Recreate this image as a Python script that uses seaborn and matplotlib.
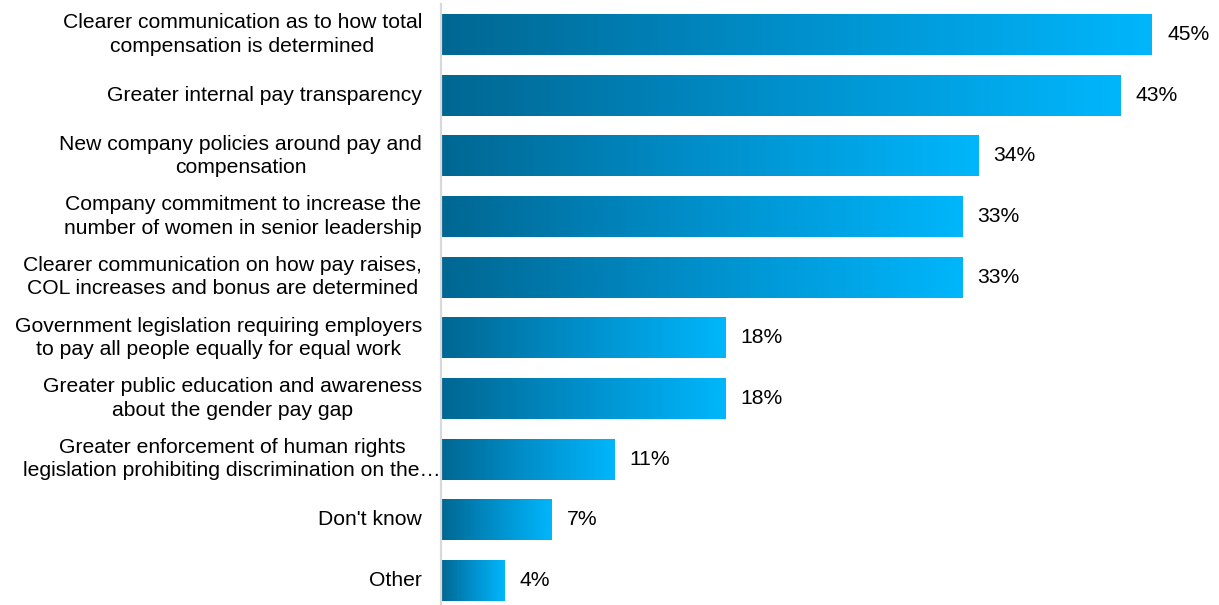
import numpy as np
import pandas as pd
import matplotlib
matplotlib.use("Agg")
import matplotlib.pyplot as plt
import seaborn as sns
from matplotlib.colors import LinearSegmentedColormap

categories = [
    "Clearer communication as to how total\ncompensation is determined",
    "Greater internal pay transparency",
    "New company policies around pay and\ncompensation",
    "Company commitment to increase the\nnumber of women in senior leadership",
    "Clearer communication on how pay raises,\nCOL increases and bonus are determined",
    "Government legislation requiring employers\nto pay all people equally for equal work",
    "Greater public education and awareness\nabout the gender pay gap",
    "Greater enforcement of human rights\nlegislation prohibiting discrimination on the\u2026",
    "Don't know",
    "Other",
]
values = [45, 43, 34, 33, 33, 18, 18, 11, 7, 4]
value_labels = ["45%", "43%", "34%", "33%", "33%", "18%", "18%", "11%", "7%", "4%"]

df = pd.DataFrame({"category": categories, "value": values})

sns.set_theme(style="white")
plt.rcParams["font.family"] = ["Liberation Sans", "DejaVu Sans"]

W, H, DPI = 1219, 605, 100
FS = 15.2
fig = plt.figure(figsize=(W / DPI, H / DPI), dpi=DPI)
# axes spans 607 px vertically, starting 4 px below the top edge
ax = fig.add_axes([441 / W, (H - 611) / H, (W - 441) / W, 607 / H])

sns.barplot(data=df, x="value", y="category", orient="h", ax=ax,
            width=0.675, color="#0088c0", saturation=1, edgecolor="none")

ax.set_xlim(0, (W - 441) / 15.8)

# horizontal gradient fill inside each bar
cmap = LinearSegmentedColormap.from_list("blue_grad", ["#006792", "#0090cc", "#00b6fb"])
grad = np.linspace(0, 1, 256).reshape(1, -1)
for patch in ax.patches:
    x0, y0 = patch.get_x(), patch.get_y()
    w, h = patch.get_width(), patch.get_height()
    im = ax.imshow(grad, cmap=cmap, aspect="auto", interpolation="bicubic",
                   extent=(x0, x0 + w, y0 + h, y0), zorder=2)
    im.set_clip_path(patch)
    patch.set_facecolor("none")
ax.set_ylim(len(categories) - 0.5, -0.5)

# category labels, right-aligned left of the axis
ax.set_yticks(range(len(categories)))
ax.set_yticklabels([])
ax.tick_params(left=False, bottom=False, labelbottom=False)
ax.set_xlabel("")
ax.set_ylabel("")
tr = ax.get_yaxis_transform()
for i, cat in enumerate(categories):
    offset = 0 if i == 7 else -19
    ax.annotate(cat, xy=(0, i), xycoords=tr, xytext=(offset * 72 / DPI, 0),
                textcoords="offset points", ha="right", va="center",
                multialignment="center", fontsize=FS, color="#000000",
                linespacing=1.3, annotation_clip=False)

# value labels at bar ends
for i, (v, lab) in enumerate(zip(values, value_labels)):
    ax.annotate(lab, xy=(v, i), xytext=(15 * 72 / DPI, 0), textcoords="offset points",
                ha="left", va="center", fontsize=FS, color="#000000")

for s in ["top", "right", "bottom"]:
    ax.spines[s].set_visible(False)
ax.spines["left"].set_color("#d9d9d9")
ax.spines["left"].set_linewidth(1.6)
ax.spines["left"].set_zorder(5)

fig.savefig("out.png", dpi=DPI, facecolor="white")
